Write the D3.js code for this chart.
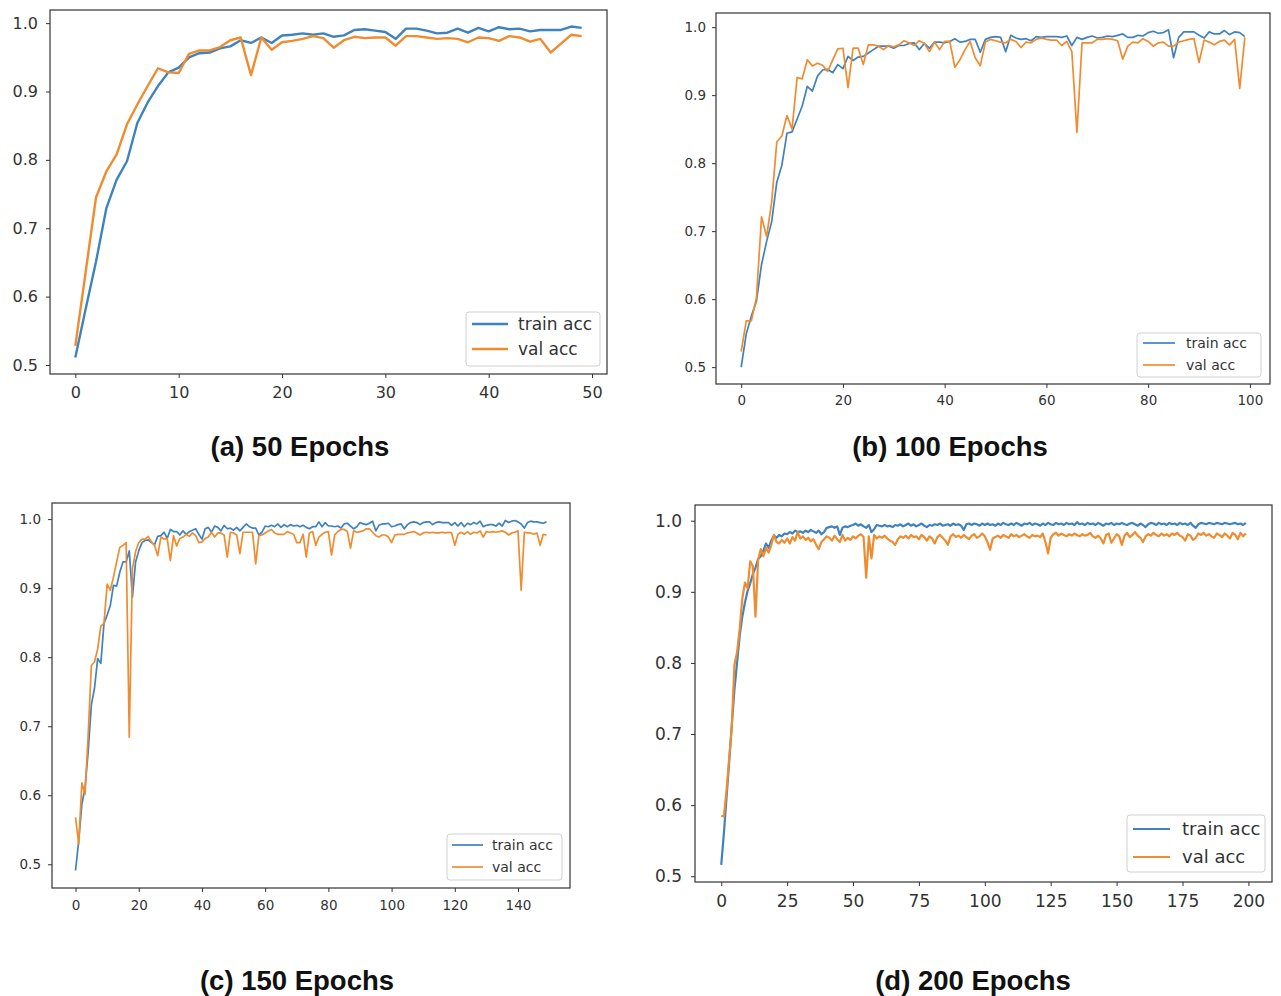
<!doctype html>
<html lang="en">
<head>
<meta charset="utf-8">
<title>Train / val accuracy</title>
<script src="https://cdn.jsdelivr.net/npm/d3@7/dist/d3.min.js"></script>
<style>
  body { margin: 0; background: #fff; }
  .tick text { fill: #333; font-family: "DejaVu Sans", sans-serif; }
  .tick line { stroke: #333; }
  .title { font-family: "Liberation Sans", Arial, sans-serif; font-weight: bold; font-size: 27.5px; fill: #111; }
</style>
</head>
<body>
<script>
// ---- data ----
var seriesNames = ["train acc", "val acc"];
var titles = ["(a) 50 Epochs", "(b) 100 Epochs", "(c) 150 Epochs", "(d) 200 Epochs"];
var yTicks = [0.5, 0.6, 0.7, 0.8, 0.9, 1.0];
var xTicksA = [0, 10, 20, 30, 40, 50];
var xTicksB = [0, 20, 40, 60, 80, 100];
var xTicksC = [0, 20, 40, 60, 80, 100, 120, 140];
var xTicksD = [0, 25, 50, 75, 100, 125, 150, 175, 200];

var trainA = [0.511,0.582,0.651,0.729,0.771,0.798,0.854,0.884,0.908,0.928,
  0.935,0.950,0.956,0.957,0.963,0.966,0.975,0.971,0.979,0.971,
  0.982,0.983,0.985,0.983,0.985,0.980,0.982,0.990,0.991,0.989,
  0.987,0.977,0.992,0.992,0.989,0.985,0.986,0.992,0.986,0.993,
  0.988,0.994,0.991,0.992,0.988,0.990,0.990,0.990,0.995,0.993];
var valA = [0.528,0.636,0.745,0.783,0.808,0.852,0.881,0.908,0.934,0.928,
  0.927,0.955,0.960,0.960,0.965,0.975,0.979,0.924,0.979,0.961,
  0.972,0.974,0.977,0.981,0.978,0.964,0.975,0.980,0.978,0.979,
  0.979,0.967,0.981,0.981,0.979,0.977,0.978,0.977,0.972,0.979,
  0.978,0.974,0.981,0.979,0.973,0.977,0.957,0.970,0.983,0.981];

var trainB = [0.500,0.549,0.575,0.597,0.651,0.685,0.714,0.772,0.797,0.844,
  0.846,0.865,0.884,0.913,0.906,0.928,0.937,0.938,0.933,0.945,
  0.939,0.957,0.951,0.956,0.957,0.962,0.967,0.972,0.972,0.972,
  0.969,0.973,0.973,0.976,0.977,0.967,0.976,0.969,0.978,0.978,
  0.977,0.979,0.983,0.978,0.979,0.982,0.982,0.963,0.982,0.985,
  0.986,0.985,0.964,0.988,0.984,0.982,0.983,0.980,0.986,0.985,
  0.986,0.986,0.986,0.985,0.987,0.973,0.985,0.982,0.985,0.987,
  0.984,0.985,0.987,0.986,0.988,0.990,0.985,0.985,0.988,0.987,
  0.992,0.994,0.991,0.992,0.996,0.955,0.985,0.993,0.993,0.993,
  0.988,0.984,0.993,0.990,0.990,0.995,0.989,0.993,0.992,0.986];
var valB = [0.523,0.568,0.568,0.602,0.721,0.692,0.743,0.831,0.840,0.870,
  0.850,0.926,0.924,0.952,0.943,0.947,0.944,0.935,0.952,0.968,
  0.969,0.911,0.969,0.969,0.945,0.974,0.974,0.972,0.967,0.973,
  0.971,0.974,0.980,0.977,0.973,0.980,0.976,0.964,0.978,0.967,
  0.979,0.979,0.941,0.952,0.967,0.979,0.955,0.943,0.978,0.982,
  0.980,0.978,0.977,0.982,0.979,0.970,0.978,0.977,0.982,0.984,
  0.982,0.981,0.981,0.973,0.979,0.964,0.845,0.977,0.977,0.977,
  0.982,0.982,0.983,0.982,0.980,0.953,0.972,0.978,0.977,0.983,
  0.979,0.972,0.977,0.978,0.972,0.972,0.978,0.980,0.982,0.983,
  0.948,0.981,0.978,0.974,0.979,0.981,0.974,0.982,0.910,0.985];

var trainC = [0.491,0.534,0.587,0.611,0.663,0.731,0.755,0.798,0.791,0.849,
  0.861,0.875,0.904,0.903,0.923,0.938,0.938,0.954,0.887,0.938,
  0.954,0.966,0.969,0.970,0.966,0.963,0.975,0.976,0.981,0.972,
  0.985,0.982,0.982,0.977,0.983,0.978,0.982,0.984,0.986,0.978,
  0.971,0.986,0.988,0.981,0.990,0.988,0.983,0.991,0.986,0.987,
  0.984,0.988,0.983,0.988,0.993,0.989,0.987,0.987,0.977,0.981,
  0.990,0.989,0.991,0.989,0.993,0.988,0.992,0.989,0.992,0.990,
  0.991,0.989,0.991,0.988,0.986,0.989,0.989,0.996,0.989,0.995,
  0.990,0.990,0.989,0.990,0.987,0.993,0.994,0.990,0.986,0.989,
  0.995,0.993,0.992,0.994,0.997,0.983,0.991,0.993,0.993,0.994,
  0.989,0.990,0.992,0.993,0.986,0.992,0.995,0.996,0.995,0.992,
  0.995,0.996,0.996,0.992,0.995,0.996,0.995,0.995,0.995,0.991,
  0.995,0.990,0.995,0.989,0.994,0.992,0.995,0.993,0.997,0.989,
  0.991,0.992,0.992,0.990,0.994,0.990,0.998,0.995,0.997,0.998,
  0.996,0.993,0.987,0.995,0.997,0.996,0.996,0.995,0.994,0.996];
var valC = [0.568,0.529,0.618,0.601,0.688,0.788,0.793,0.812,0.845,0.849,
  0.906,0.897,0.916,0.938,0.959,0.962,0.966,0.684,0.928,0.953,
  0.966,0.971,0.971,0.975,0.967,0.962,0.947,0.974,0.971,0.972,
  0.940,0.976,0.961,0.972,0.974,0.978,0.975,0.980,0.976,0.966,
  0.967,0.972,0.974,0.981,0.974,0.980,0.980,0.977,0.945,0.981,
  0.980,0.977,0.950,0.981,0.981,0.981,0.981,0.935,0.976,0.977,
  0.980,0.983,0.985,0.980,0.978,0.978,0.978,0.982,0.980,0.978,
  0.966,0.966,0.978,0.945,0.980,0.982,0.962,0.974,0.978,0.981,
  0.982,0.948,0.977,0.982,0.985,0.985,0.982,0.958,0.983,0.981,
  0.982,0.983,0.986,0.986,0.981,0.976,0.974,0.977,0.977,0.974,
  0.966,0.977,0.978,0.978,0.978,0.980,0.981,0.982,0.980,0.977,
  0.980,0.981,0.980,0.981,0.980,0.980,0.981,0.980,0.981,0.980,
  0.962,0.978,0.981,0.978,0.982,0.978,0.981,0.980,0.983,0.974,
  0.982,0.981,0.982,0.981,0.982,0.983,0.981,0.977,0.980,0.981,
  0.983,0.897,0.981,0.980,0.980,0.978,0.980,0.962,0.978,0.977];

var trainD = [0.516,0.560,0.610,0.660,0.712,0.762,0.800,0.838,0.865,0.885,
  0.901,0.912,0.925,0.934,0.946,0.950,0.958,0.968,0.962,0.972,
  0.979,0.976,0.980,0.978,0.982,0.981,0.984,0.982,0.986,0.984,
  0.985,0.983,0.986,0.984,0.987,0.985,0.983,0.986,0.981,0.984,
  0.990,0.991,0.992,0.990,0.992,0.980,0.990,0.992,0.991,0.993,
  0.994,0.996,0.993,0.995,0.992,0.990,0.994,0.984,0.988,0.994,
  0.993,0.992,0.994,0.992,0.993,0.991,0.994,0.993,0.995,0.992,
  0.994,0.996,0.993,0.995,0.992,0.994,0.996,0.993,0.991,0.994,
  0.993,0.995,0.994,0.996,0.993,0.994,0.995,0.993,0.996,0.994,
  0.995,0.993,0.987,0.995,0.996,0.994,0.996,0.995,0.993,0.996,
  0.994,0.996,0.994,0.995,0.993,0.996,0.994,0.997,0.995,0.994,
  0.996,0.994,0.997,0.995,0.993,0.996,0.995,0.997,0.994,0.996,
  0.995,0.993,0.996,0.994,0.997,0.995,0.994,0.997,0.995,0.996,
  0.994,0.997,0.995,0.996,0.994,0.998,0.995,0.996,0.994,0.997,
  0.995,0.996,0.994,0.997,0.995,0.993,0.996,0.995,0.997,0.994,
  0.996,0.995,0.997,0.995,0.994,0.996,0.997,0.995,0.993,0.996,
  0.994,0.991,0.995,0.997,0.996,0.994,0.997,0.995,0.996,0.994,
  0.997,0.995,0.996,0.994,0.997,0.995,0.996,0.994,0.997,0.993,
  0.990,0.995,0.997,0.996,0.995,0.997,0.996,0.995,0.997,0.996,
  0.995,0.997,0.996,0.995,0.996,0.997,0.995,0.996,0.994,0.997];
var valD = [0.585,0.584,0.620,0.665,0.710,0.797,0.815,0.848,0.891,0.913,
  0.905,0.943,0.936,0.865,0.945,0.960,0.950,0.962,0.955,0.966,
  0.980,0.970,0.968,0.973,0.969,0.975,0.968,0.977,0.972,0.984,
  0.975,0.978,0.973,0.976,0.971,0.974,0.966,0.960,0.970,0.974,
  0.978,0.976,0.972,0.979,0.974,0.970,0.980,0.972,0.976,0.973,
  0.978,0.975,0.979,0.981,0.977,0.920,0.978,0.947,0.980,0.975,
  0.978,0.976,0.979,0.975,0.972,0.970,0.966,0.974,0.978,0.976,
  0.979,0.975,0.980,0.977,0.978,0.974,0.980,0.977,0.972,0.978,
  0.975,0.968,0.977,0.980,0.976,0.972,0.966,0.978,0.981,0.977,
  0.979,0.976,0.980,0.977,0.974,0.979,0.981,0.976,0.978,0.982,
  0.978,0.970,0.959,0.975,0.977,0.979,0.976,0.980,0.978,0.976,
  0.981,0.978,0.980,0.977,0.979,0.981,0.978,0.976,0.980,0.978,
  0.979,0.977,0.982,0.970,0.954,0.976,0.981,0.983,0.979,0.982,
  0.980,0.978,0.981,0.979,0.982,0.980,0.978,0.981,0.979,0.980,
  0.983,0.978,0.976,0.979,0.975,0.968,0.980,0.982,0.969,0.975,
  0.981,0.978,0.966,0.979,0.983,0.977,0.980,0.984,0.979,0.976,
  0.970,0.978,0.981,0.979,0.983,0.980,0.978,0.982,0.979,0.981,
  0.978,0.982,0.980,0.983,0.979,0.977,0.972,0.981,0.979,0.973,
  0.976,0.982,0.980,0.983,0.979,0.981,0.978,0.976,0.982,0.980,
  0.977,0.982,0.979,0.975,0.983,0.980,0.974,0.983,0.978,0.982];

var colors = ["#3f82c0", "#f08c30"];

// layout of each panel (pixels on the page)
var panels = [
  {train: trainA, val: valA, xTicks: xTicksA, title: titles[0],
   box: [50, 10, 607, 374], font: 16, lw: 2.4, pad: 8, xpad: 9,
   leg: {x: 466, y: 312, w: 134, h: 54, rows: [12, 37], l0: 6, l1: 42, tx: 52, font: 17},
   tx: 300, ty: 456},
  {train: trainB, val: valB, xTicks: xTicksB, title: titles[1],
   box: [716, 13, 1270, 384], font: 13.5, lw: 1.7, pad: 6, xpad: 7,
   leg: {x: 1137, y: 333, w: 124, h: 44, rows: [10, 32], l0: 6, l1: 38, tx: 49, font: 14},
   tx: 950, ty: 456},
  {train: trainC, val: valC, xTicks: xTicksC, title: titles[2],
   box: [52, 503, 570, 888], font: 13.5, lw: 1.7, pad: 7, xpad: 8,
   leg: {x: 447, y: 834, w: 115, h: 46, rows: [11, 33], l0: 5, l1: 36, tx: 45, font: 14},
   tx: 297, ty: 990},
  {train: trainD, val: valD, xTicks: xTicksD, title: titles[3],
   box: [695, 505, 1272, 882], font: 17, lw: 2.2, pad: 9, xpad: 9,
   leg: {x: 1127, y: 815, w: 138, h: 57, rows: [14, 42], l0: 6, l1: 43, tx: 55, font: 18},
   tx: 973, ty: 990}
];

var svg = d3.select("body").append("svg")
    .attr("width", 1281).attr("height", 996);

panels.forEach(function(p){
    var n = p.train.length;
    var all = p.train.concat(p.val);
    var yMin = d3.min(all), yMax = d3.max(all);
    var xPad = (n - 1) * 0.05, yPad = (yMax - yMin) * 0.05;

    var x = d3.scaleLinear().domain([-xPad, n - 1 + xPad]).range([p.box[0], p.box[2]]);
    var y = d3.scaleLinear().domain([yMin - yPad, yMax + yPad]).range([p.box[3], p.box[1]]);

    var g = svg.append("g");

    var line = d3.line()
        .x(function(d, i){ return x(i); })
        .y(function(d){ return y(d); });

    [p.train, p.val].forEach(function(s, k){
        g.append("path")
            .attr("d", line(s))
            .attr("fill", "none")
            .attr("stroke", colors[k])
            .attr("stroke-width", p.lw)
            .attr("stroke-linejoin", "round");
    });

    // frame
    g.append("rect")
        .attr("x", p.box[0]).attr("y", p.box[1])
        .attr("width", p.box[2] - p.box[0]).attr("height", p.box[3] - p.box[1])
        .attr("fill", "none").attr("stroke", "#333").attr("stroke-width", 1.2);

    var xAxis = g.append("g")
        .attr("transform", "translate(0," + p.box[3] + ")")
        .call(d3.axisBottom(x).tickValues(p.xTicks).tickSize(4).tickPadding(p.xpad).tickFormat(d3.format("d")));
    var yAxis = g.append("g")
        .attr("transform", "translate(" + p.box[0] + ",0)")
        .call(d3.axisLeft(y).tickValues(yTicks).tickSize(4).tickPadding(p.pad).tickFormat(d3.format(".1f")));
    [xAxis, yAxis].forEach(function(a){
        a.select(".domain").remove();
        a.selectAll("text").style("font-size", p.font + "px");
    });

    // legend
    var L = p.leg;
    var lg = g.append("g").attr("transform", "translate(" + L.x + "," + L.y + ")");
    lg.append("rect")
        .attr("width", L.w).attr("height", L.h).attr("rx", 3)
        .attr("fill", "#fff").attr("fill-opacity", 0.8)
        .attr("stroke", "#d0d0d0");
    seriesNames.forEach(function(name, k){
        lg.append("line")
            .attr("x1", L.l0).attr("x2", L.l1)
            .attr("y1", L.rows[k]).attr("y2", L.rows[k])
            .attr("stroke", colors[k]).attr("stroke-width", p.lw);
        lg.append("text")
            .attr("x", L.tx).attr("y", L.rows[k])
            .attr("dy", "0.35em")
            .style("font-family", "DejaVu Sans, sans-serif")
            .style("font-size", L.font + "px")
            .attr("fill", "#333")
            .text(name);
    });

    svg.append("text")
        .attr("class", "title")
        .attr("x", p.tx).attr("y", p.ty)
        .attr("text-anchor", "middle")
        .text(p.title);
});
</script>
</body>
</html>
